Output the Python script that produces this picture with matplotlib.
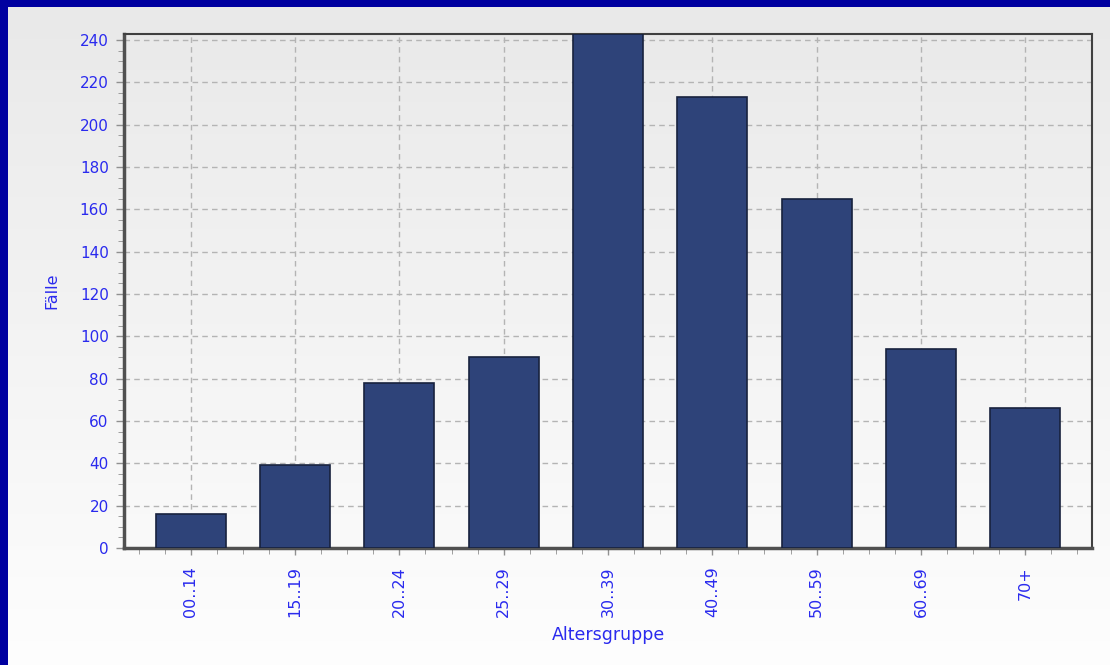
import numpy as np
import matplotlib
matplotlib.use("Agg")
import matplotlib.pyplot as plt
from matplotlib.ticker import MultipleLocator, FixedLocator

categories = ["00..14", "15..19", "20..24", "25..29", "30..39", "40..49", "50..59", "60..69", "70+"]
values = [16, 39, 78, 90, 243, 213, 165, 94, 66]
x_label = "Altersgruppe"
y_label = "Fälle"

plt.rcParams['font.family'] = ['DejaVu Sans']
txt_color = '#2a2aee'

W, H = 1110, 665
fig = plt.figure(figsize=(W / 100, H / 100), dpi=100)

# background gradient over whole panel
bg = fig.add_axes([0, 0, 1, 1])
grad = np.linspace(0, 1, 256).reshape(-1, 1)
top = np.array([0.913, 0.913, 0.913])
bot = np.array([0.995, 0.995, 0.995])
img = top[None, None, :] * (1 - grad[:, :, None]) + bot[None, None, :] * grad[:, :, None]
bg.imshow(img, aspect='auto', extent=[0, 1, 0, 1], origin='upper')
bg.set_xlim(0, 1); bg.set_ylim(0, 1)
bg.axis('off')
# navy borders top and left
bg.add_patch(plt.Rectangle((0, 1 - 7 / H), 1, 7 / H, color='#0000a0', lw=0))
bg.add_patch(plt.Rectangle((0, 0), 8 / W, 1, color='#0000a0', lw=0))

ax = fig.add_axes([124 / W, 1 - 548 / H, (1092 - 124) / W, (548 - 34) / H])
ax.set_facecolor('none')
x = np.arange(len(categories))
ax.bar(x, values, width=0.67, color='#2e4379', edgecolor='#18223e', linewidth=1.2, zorder=3)

ax.set_xlim(-0.64, len(categories) - 1 + 0.64)
ax.set_ylim(0, 242.8)
ax.yaxis.set_major_locator(MultipleLocator(20))
ax.yaxis.set_minor_locator(MultipleLocator(5))
ax.set_xticks(x)
ax.set_xticklabels(categories, rotation=90, color=txt_color, fontsize=11.5)
minor = [c + d for c in x for d in (-0.5, -0.25, 0.25, 0.5)]
ax.xaxis.set_minor_locator(FixedLocator(sorted(set(minor))))
ax.tick_params(axis='y', labelcolor=txt_color, labelsize=11, colors='#909090', length=6, width=1, pad=5)
ax.tick_params(axis='y', which='minor', length=4, color='#909090')
ax.tick_params(axis='x', colors='#909090', labelcolor=txt_color, length=5, width=1, pad=8)
ax.tick_params(axis='x', which='minor', length=4, color='#909090')

ax.grid(True, which='major', linestyle=(0, (4, 3)), color='#b4b4b4', linewidth=1, zorder=0)
ax.set_axisbelow(True)

for s in ['top', 'right']:
    ax.spines[s].set_color('#404040')
    ax.spines[s].set_linewidth(1.5)
for s in ['left', 'bottom']:
    ax.spines[s].set_color('#505050')
    ax.spines[s].set_linewidth(2.5)

ax.set_xlabel(x_label, color=txt_color, fontsize=12.5, va='center')
ax.set_ylabel(y_label, color=txt_color, fontsize=11.5, va='center')
ax.xaxis.set_label_coords(0.5, -(635 - 548) / 514)
ax.yaxis.set_label_coords((52 - 124) / 968, 0.5)

fig.savefig("out.png", dpi=100)
